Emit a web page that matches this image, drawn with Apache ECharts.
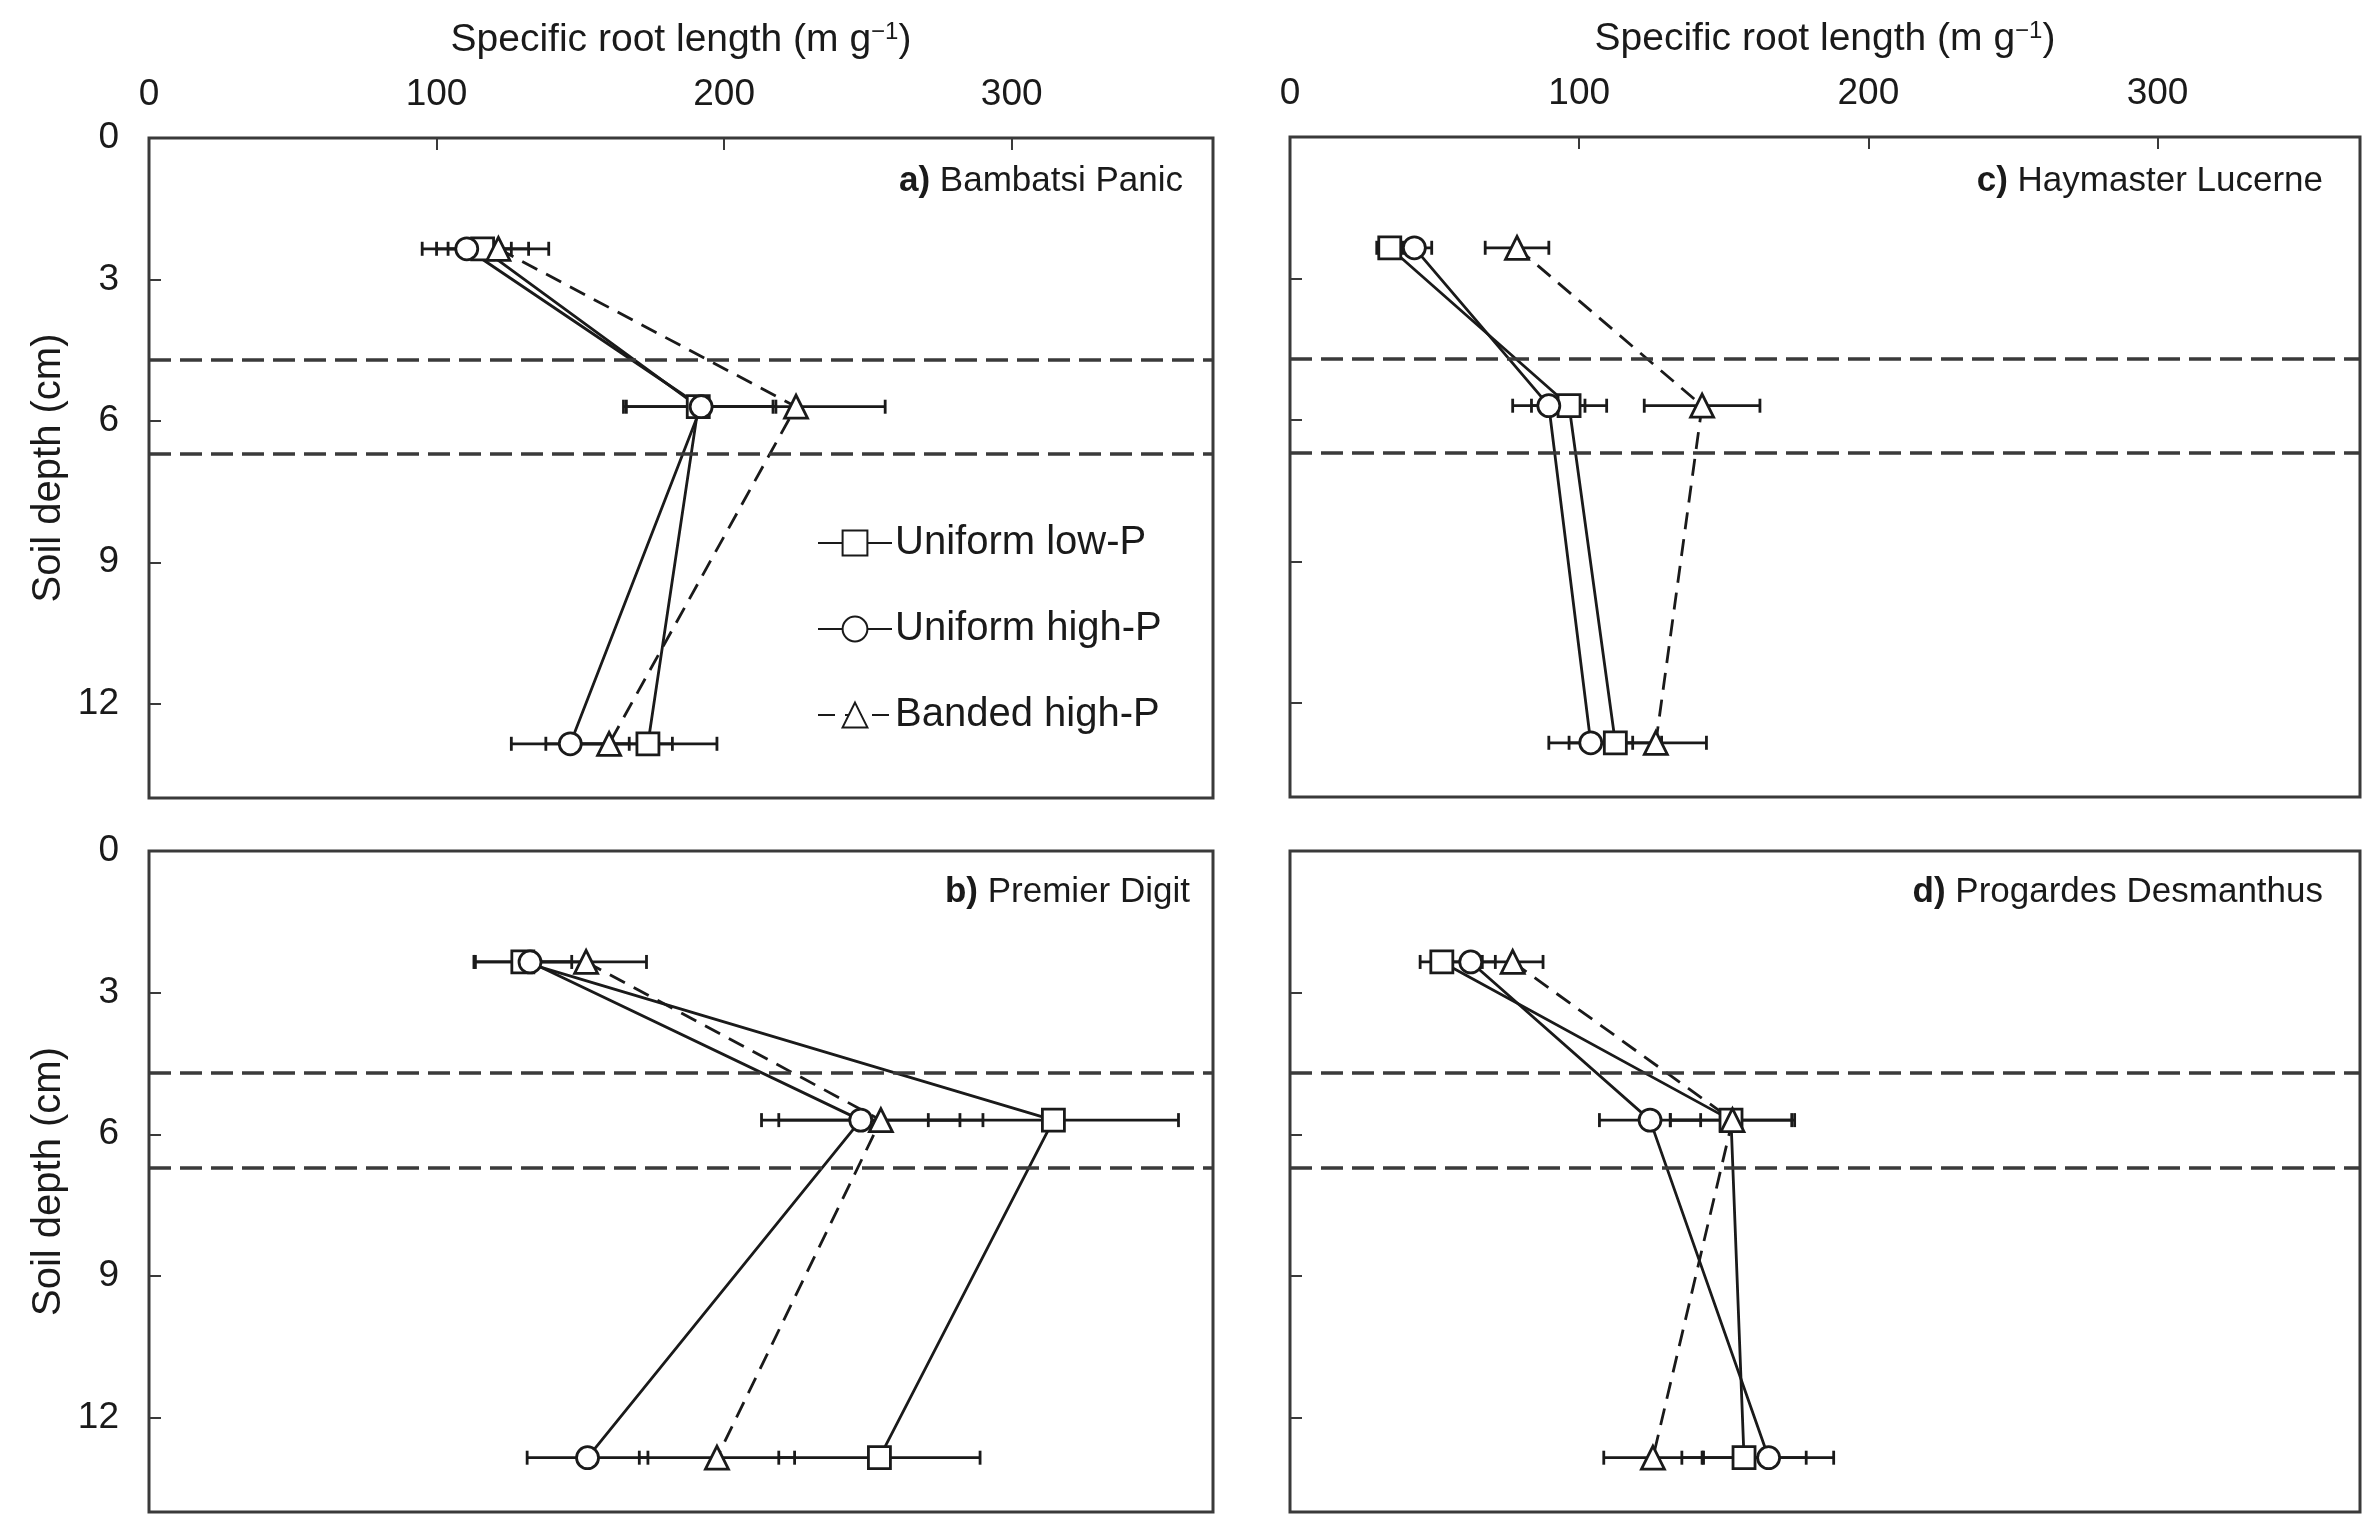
<!DOCTYPE html>
<html>
<head>
<meta charset="utf-8">
<script src="https://cdn.jsdelivr.net/npm/echarts@6/dist/echarts.min.js"></script>
<style>
  html, body { margin: 0; padding: 0; background: #fff; }
  #chart { width: 2376px; height: 1528px; }
</style>
</head>
<body>
<div id="chart"></div>
<script>
// sampling depths (cm) and band edges
const depths = [2.35, 5.7, 12.85]
const bandEdges = [4.7, 6.7]
const xTicks = [0, 100, 200, 300]
const yTicks = [0, 3, 6, 9, 12]

// a) Bambatsi Panic
const panicLowP = [116, 191, 173.5]
const panicLowPSe = [16, 26, 24]
const panicHighP = [110.5, 192, 146.5]
const panicHighPSe = [15.5, 26, 20.5]
const panicBanded = [121.5, 225, 160]
const panicBandedSe = [17.5, 31, 22]

// b) Premier Digit
const digitLowP = [130, 314.5, 254]
const digitLowPSe = [17, 43.5, 35]
const digitHighP = [132.5, 247.5, 152.5]
const digitHighPSe = [19, 34.5, 21]
const digitBanded = [152, 254.5, 197.5]
const digitBandedSe = [21, 35.5, 27]

// c) Haymaster Lucerne
const lucerneLowP = [34.5, 96.5, 112.5]
const lucerneLowPSe = [4.5, 13, 16]
const lucerneHighP = [43, 89.5, 104]
const lucerneHighPSe = [6, 12.5, 14.5]
const lucerneBanded = [78.5, 142.5, 126.5]
const lucerneBandedSe = [11, 20, 17.5]

// d) Progardes Desmanthus
const desmLowP = [52.5, 152.5, 157]
const desmLowPSe = [7.5, 21, 21.5]
const desmHighP = [62.5, 124.5, 165.5]
const desmHighPSe = [8.5, 17.5, 22.5]
const desmBanded = [77, 153, 125.5]
const desmBandedSe = [10.5, 21.5, 17]

const treatments = ["Uniform low-P", "Uniform high-P", "Banded high-P"]
const symbols = ["rect", "circle", "triangle"]

const panels = [
  { label: "a)", name: "Bambatsi Panic", series: [[panicLowP, panicLowPSe], [panicHighP, panicHighPSe], [panicBanded, panicBandedSe]] },
  { label: "b)", name: "Premier Digit", series: [[digitLowP, digitLowPSe], [digitHighP, digitHighPSe], [digitBanded, digitBandedSe]] },
  { label: "c)", name: "Haymaster Lucerne", series: [[lucerneLowP, lucerneLowPSe], [lucerneHighP, lucerneHighPSe], [lucerneBanded, lucerneBandedSe]] },
  { label: "d)", name: "Progardes Desmanthus", series: [[desmLowP, desmLowPSe], [desmHighP, desmHighPSe], [desmBanded, desmBandedSe]] }
]

const ink = "#1a1a1a"
const frame = "#3a3a3a"
const font = "Liberation Sans"

const grids = [
  { left: 149, top: 138, width: 1064, height: 660 },
  { left: 149, top: 851, width: 1064, height: 661 },
  { left: 1290, top: 137, width: 1070, height: 660 },
  { left: 1290, top: 851, width: 1070, height: 661 }
]
const titlePos = [
  { right: 1193, top: 164 },
  { right: 1186, top: 875 },
  { right: 53, top: 164 },
  { right: 53, top: 875 }
]

const isTop = (i) => i === 0 || i === 2
const isLeft = (i) => i === 0 || i === 1

const xAxes = grids.map((g, i) => ({
  type: "value",
  gridIndex: i,
  position: "top",
  min: 0,
  max: 370,
  interval: 100,
  name: isTop(i) ? "Specific root length (m g{sup|\u22121})" : "",
  nameLocation: "middle",
  nameGap: 78,
  nameTextStyle: {
    fontFamily: font, fontSize: 39, color: ink,
    rich: { sup: { fontFamily: font, fontSize: 24, color: ink, verticalAlign: "top", padding: [0, 0, 16, 0] } }
  },
  axisLine: { show: false },
  axisTick: { show: isTop(i), inside: true, length: 12, lineStyle: { color: frame, width: 2 } },
  axisLabel: {
    show: isTop(i), margin: 25, fontFamily: font, fontSize: 37, color: ink,
    customValues: xTicks
  },
  splitLine: { show: false }
}))

const yAxes = grids.map((g, i) => ({
  type: "value",
  gridIndex: i,
  inverse: true,
  min: 0,
  max: 14,
  interval: 3,
  name: isLeft(i) ? "Soil depth (cm)" : "",
  nameLocation: "middle",
  nameGap: 80,
  nameRotate: 90,
  nameTextStyle: { fontFamily: font, fontSize: 40, color: ink },
  axisLine: { show: false },
  axisTick: { show: true, inside: true, length: 12, lineStyle: { color: frame, width: 2 }, customValues: yTicks },
  axisLabel: { show: isLeft(i), margin: 30, fontFamily: font, fontSize: 37, color: ink, customValues: yTicks },
  splitLine: { show: false }
}))

function errorBars(panel, idx) {
  const rows = []
  panel.series.forEach(([mean, se]) => {
    mean.forEach((v, k) => rows.push([v - se[k], v + se[k], depths[k]]))
  })
  const st = { stroke: ink, lineWidth: 2.8 }
  return {
    type: "custom",
    xAxisIndex: idx,
    yAxisIndex: idx,
    z: 1,
    silent: true,
    encode: { x: [0, 1], y: 2 },
    data: rows,
    renderItem: (params, api) => {
      const lo = api.coord([api.value(0), api.value(2)])
      const hi = api.coord([api.value(1), api.value(2)])
      const cap = 7
      return {
        type: "group",
        children: [
          { type: "line", shape: { x1: lo[0], y1: lo[1], x2: hi[0], y2: hi[1] }, style: st },
          { type: "line", shape: { x1: lo[0], y1: lo[1] - cap, x2: lo[0], y2: lo[1] + cap }, style: st },
          { type: "line", shape: { x1: hi[0], y1: hi[1] - cap, x2: hi[0], y2: hi[1] + cap }, style: st }
        ]
      }
    }
  }
}

const series = []
panels.forEach((panel, idx) => {
  series.push(errorBars(panel, idx))
  panel.series.forEach(([mean], t) => {
    const s = {
      type: "line",
      name: treatments[t],
      xAxisIndex: idx,
      yAxisIndex: idx,
      z: 3,
      data: mean.map((v, k) => [v, depths[k]]),
      symbol: symbols[t],
      symbolSize: symbols[t] === "triangle" ? 23 : 22,
      lineStyle: { color: ink, width: 2.8, type: t === 2 ? [17, 10] : "solid" },
      itemStyle: { color: "#fff", borderColor: ink, borderWidth: 2.8 }
    }
    if (t === 2) {
      s.markLine = {
        silent: true,
        symbol: "none",
        label: { show: false },
        lineStyle: { color: frame, width: 3.5, type: [22, 9] },
        data: bandEdges.map((d) => ({ yAxis: d }))
      }
    }
    series.push(s)
  })
})

const option = {
  animation: false,
  backgroundColor: "#fff",
  textStyle: { fontFamily: font },
  grid: grids.map((g) => ({ ...g, show: true, borderColor: frame, borderWidth: 3, backgroundColor: "transparent" })),
  xAxis: xAxes,
  yAxis: yAxes,
  title: panels.map((p, i) => ({
    text: "{b|" + p.label + "} " + p.name,
    ...titlePos[i],
    padding: 0,
    textStyle: {
      fontFamily: font, fontSize: 35, fontWeight: "normal", color: ink,
      rich: { b: { fontFamily: font, fontSize: 35, fontWeight: "bold", color: ink } }
    }
  })),
  legend: {
    data: treatments,
    orient: "vertical",
    left: 812,
    top: 518,
    itemWidth: 74,
    itemHeight: 31,
    itemGap: 46,
    textStyle: { fontFamily: font, fontSize: 40, color: ink, padding: [0, 0, 0, -2] }
  },
  series: series
}

const chart = echarts.init(document.getElementById("chart"), null, { renderer: "canvas" })
chart.setOption(option)
</script>
</body>
</html>
